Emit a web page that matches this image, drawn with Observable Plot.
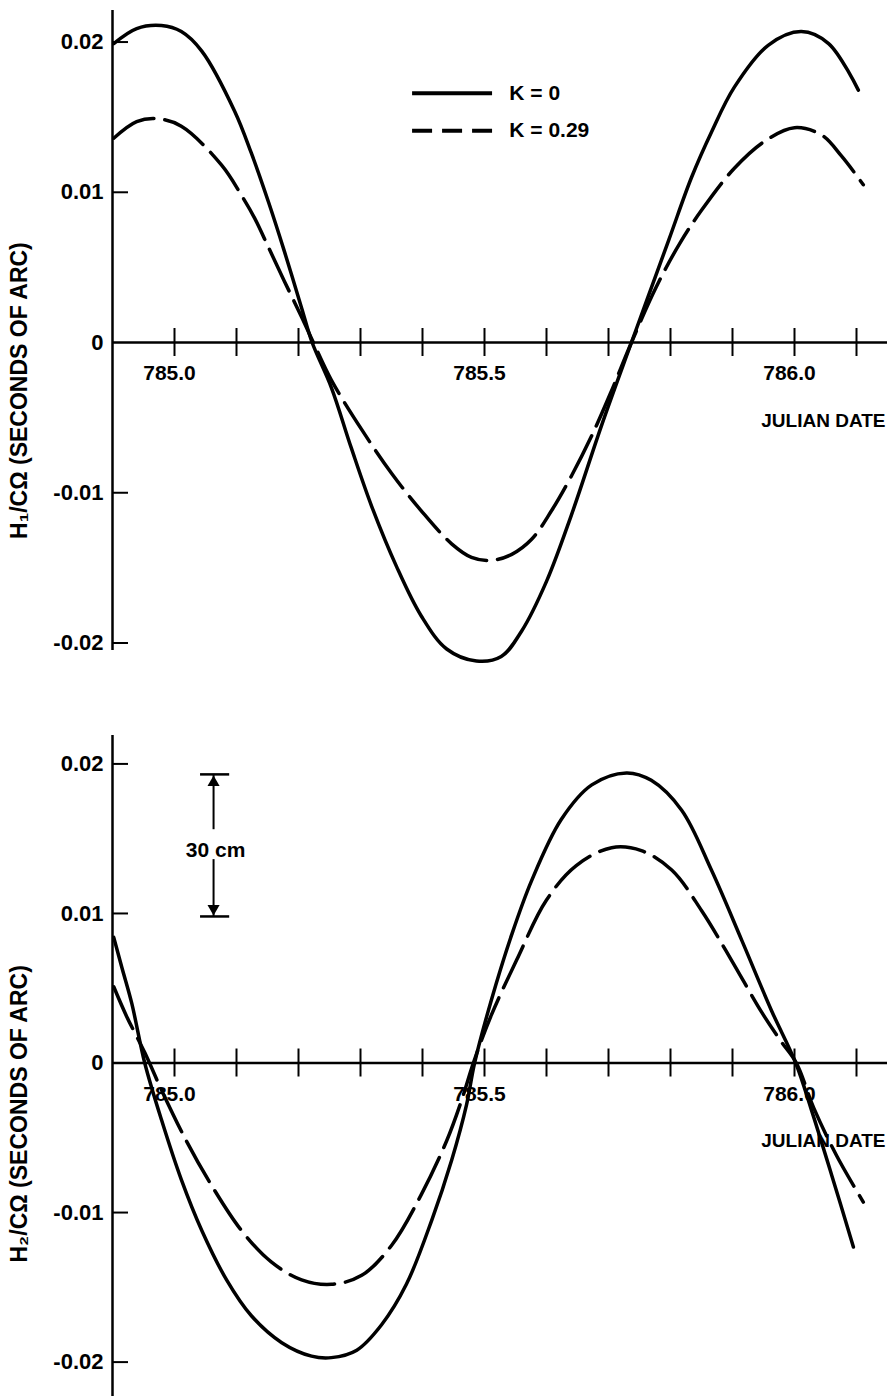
<!DOCTYPE html>
<html><head><meta charset="utf-8">
<script src="https://cdn.jsdelivr.net/npm/d3@7"></script>
<script src="https://cdn.jsdelivr.net/npm/@observablehq/plot@0.6"></script>
<style>
body{margin:0;background:#fff;}
#chart{width:890px;}
#chart svg{display:block;}
</style></head><body><div id="chart"></div>
<script>
// ---- data (Julian date, value in seconds of arc) ----
const h1Date_K0 = [784.902, 784.939, 784.979, 785.011, 785.044, 785.097, 785.124, 785.152, 785.177, 785.205, 785.222, 785.253, 785.285, 785.318, 785.358, 785.398, 785.439, 785.487, 785.527, 785.560, 785.600, 785.640, 785.689, 785.737, 785.797, 785.834, 785.866, 785.903, 785.958, 786.011, 786.055, 786.103];
const h1_K0 = [0.0199, 0.0209, 0.0211, 0.0207, 0.0194, 0.0154, 0.0126, 0.0093, 0.0061, 0.0023, 0, -0.0030, -0.0070, -0.0109, -0.0149, -0.0182, -0.0204, -0.0212, -0.0209, -0.0192, -0.0159, -0.0115, -0.0055, 0, 0.0068, 0.0110, 0.0140, 0.0170, 0.0198, 0.0207, 0.0199, 0.0168];

const h1Date_K029 = [784.902, 784.939, 784.971, 785.011, 785.076, 785.108, 785.129, 785.152, 785.177, 785.205, 785.224, 785.253, 785.302, 785.350, 785.398, 785.447, 785.479, 785.511, 785.544, 785.576, 785.608, 785.640, 785.673, 785.705, 785.737, 785.777, 785.815, 785.850, 785.903, 785.952, 786.000, 786.044, 786.076, 786.111];
const h1_K029 = [0.0136, 0.0147, 0.0149, 0.0144, 0.0118, 0.0098, 0.0083, 0.0063, 0.0041, 0.0017, 0, -0.0025, -0.0058, -0.0087, -0.0112, -0.0134, -0.0143, -0.0145, -0.0141, -0.0131, -0.0112, -0.0089, -0.0062, -0.0032, 0, 0.0037, 0.0066, 0.0088, 0.0116, 0.0134, 0.0143, 0.0138, 0.0124, 0.0105];

const h2Date_K0 = [784.902, 784.915, 784.931, 784.952, 784.979, 785.011, 785.044, 785.084, 785.124, 785.173, 785.221, 785.253, 785.294, 785.334, 785.374, 785.415, 785.447, 785.471, 785.484, 785.511, 785.544, 785.576, 785.624, 785.673, 785.729, 785.769, 785.818, 785.866, 785.915, 785.963, 786.002, 786.027, 786.060, 786.095];
const h2_K0 = [0.0084, 0.0064, 0.0040, 0, -0.0038, -0.0078, -0.0112, -0.0145, -0.0169, -0.0187, -0.0196, -0.0197, -0.0192, -0.0175, -0.0148, -0.0105, -0.0065, -0.0028, 0, 0.0042, 0.0086, 0.0122, 0.0163, 0.0186, 0.0194, 0.0189, 0.0169, 0.0129, 0.0082, 0.0035, 0, -0.0031, -0.0075, -0.0123];

const h2Date_K029 = [784.902, 784.923, 784.952, 784.979, 785.019, 785.060, 785.108, 785.156, 785.205, 785.253, 785.302, 785.350, 785.398, 785.439, 785.463, 785.482, 785.511, 785.552, 785.600, 785.648, 785.705, 785.753, 785.802, 785.850, 785.898, 785.947, 785.979, 786.003, 786.031, 786.068, 786.111];
const h2_K029 = [0.0051, 0.0031, 0.0007, -0.0018, -0.0052, -0.0082, -0.0112, -0.0133, -0.0145, -0.0148, -0.0142, -0.0122, -0.0088, -0.0052, -0.0025, 0, 0.0032, 0.0069, 0.0109, 0.0132, 0.0144, 0.0142, 0.0129, 0.0102, 0.0069, 0.0034, 0.0014, 0, -0.0030, -0.0062, -0.0093];

// ---- axes ----
const xDomain = [784.9, 786.15];
const xTicks = [785.0, 785.1, 785.2, 785.3, 785.4, 785.5, 785.6, 785.7, 785.8, 785.9, 786.0, 786.1];
const xTickLabels = ["785.0", "785.5", "786.0"];
const xLabelValues = [785.0, 785.5, 786.0];
const yTicks = [0.02, 0.01, -0.01, -0.02];
const yLabelValues = [0.02, 0.01, 0, -0.01, -0.02];
const yTickLabels = ["0.02", "0.01", "0", "-0.01", "-0.02"];
const xTitle = "JULIAN DATE";
const yTitles = ["H\u2081/C\u03A9 (SECONDS OF ARC)", "H\u2082/C\u03A9 (SECONDS OF ARC)"];

// ---- annotations (data coordinates) ----
const legendLabels = ["K = 0", "K = 0.29"];
const legendY = [0.0166, 0.0141];
const legendLineX = [785.384, 785.513];
const legendTextX = 785.540;
const xTitleY = -0.0052;
const yTitleY = [-0.0032, -0.0034];
const scaleBarX = 785.063;
const scaleBarCapX = [785.042, 785.089];
const scaleBarEnds = [0.0193, 0.0098];
const scaleBarGap = [0.0156, 0.0136];
const scaleBarLabel = "30 cm";
const scaleBarLabelY = 0.01425;

const rows = (ds, vs) => ds.map((d, i) => ({date: d, value: vs[i]}));
const FONT = "'Liberation Sans', Arial, Helvetica, sans-serif";

function panel({solid, dashed, yDomain, height, marginTop, marginBottom, yTitle, titleY, extra}) {
  const svg = Plot.plot({
    width: 890, height, marginLeft: 112, marginRight: 3, marginTop, marginBottom,
    x: {domain: xDomain, axis: null},
    y: {domain: yDomain, axis: null},
    style: {fontFamily: FONT, fontWeight: "bold", background: "white", color: "black", overflow: "visible"},
    marks: [
      Plot.ruleY([0], {strokeWidth: 2.5}),
      Plot.ruleX([xDomain[0]], {strokeWidth: 2.5}),
      Plot.ruleX(xTicks, {x: d => d, y1: 0, y2: 0, insetTop: -14, insetBottom: -14, strokeWidth: 2}),
      Plot.ruleY(yTicks, {y: d => d, x1: xDomain[0], x2: xDomain[0], insetLeft: 0, insetRight: -16, strokeWidth: 2}),
      Plot.text(yLabelValues, {y: d => d, frameAnchor: "left", text: (d, i) => yTickLabels[i], textAnchor: "end", dx: -9, fontSize: 22, fontWeight: "bold"}),
      Plot.text(xLabelValues, {x: d => d, y: 0, text: (d, i) => xTickLabels[i], dy: 31, dx: -5, fontSize: 21, fontWeight: "bold"}),
      Plot.text([xTitle], {x: xDomain[1], y: xTitleY, text: d => d, textAnchor: "end", dx: -2, fontSize: 19, fontWeight: "bold"}),
      Plot.text([yTitle], {y: titleY, frameAnchor: "left", text: d => d, textAnchor: "middle", rotate: -90, dx: -93, fontSize: 23, fontWeight: "bold", ariaLabel: "y-title"}),
      Plot.line(solid, {x: "date", y: "value", curve: "catmull-rom", strokeWidth: 3.5}),
      Plot.line(dashed, {x: "date", y: "value", curve: "catmull-rom", strokeWidth: 3.5, strokeDasharray: "46,11"}),
      ...extra
    ]
  });
  d3.select(svg).selectAll('g[aria-label="y-title"] text').style("letter-spacing", "4px");
  return svg;
}

const topPanel = panel({
  solid: rows(h1Date_K0, h1_K0), dashed: rows(h1Date_K029, h1_K029),
  yDomain: [-0.0205, 0.0221], height: 700, marginTop: 10, marginBottom: 50,
  yTitle: yTitles[0], titleY: yTitleY[0],
  extra: [
    Plot.ruleY([legendY[0]], {x1: legendLineX[0], x2: legendLineX[1], y: d => d, strokeWidth: 4}),
    Plot.ruleY([legendY[1]], {x1: legendLineX[0], x2: legendLineX[1], y: d => d, strokeWidth: 4, strokeDasharray: "20,10"}),
    Plot.text(legendLabels, {x: legendTextX, y: (d, i) => legendY[i], text: d => d, textAnchor: "start", fontSize: 21, fontWeight: "bold"})
  ]
});

const bottomPanel = panel({
  solid: rows(h2Date_K0, h2_K0), dashed: rows(h2Date_K029, h2_K029),
  yDomain: [-0.0223, 0.0219], height: 696, marginTop: 35, marginBottom: 0,
  yTitle: yTitles[1], titleY: yTitleY[1],
  extra: [
    Plot.ruleY(scaleBarEnds, {y: d => d, x1: scaleBarCapX[0], x2: scaleBarCapX[1], strokeWidth: 2.5}),
    Plot.ruleX([scaleBarX], {x: d => d, y1: scaleBarEnds[0], y2: scaleBarGap[0], strokeWidth: 2}),
    Plot.ruleX([scaleBarX], {x: d => d, y1: scaleBarGap[1], y2: scaleBarEnds[1], strokeWidth: 2}),
    Plot.dot([scaleBarEnds[0]], {x: scaleBarX, y: d => d, symbol: "triangle", r: 4.5, fill: "black", stroke: "none", dy: 8}),
    Plot.dot([scaleBarEnds[1]], {x: scaleBarX, y: d => d, symbol: "triangle", r: 4.5, fill: "black", stroke: "none", rotate: 180, dy: -8}),
    Plot.text([scaleBarLabel], {x: scaleBarX, y: scaleBarLabelY, text: d => d, dx: 2, fontSize: 21, fontWeight: "bold"})
  ]
});

document.getElementById("chart").append(topPanel, bottomPanel);
</script></body></html>
